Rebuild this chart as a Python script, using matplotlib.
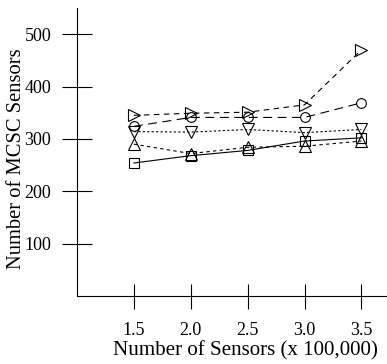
import matplotlib
matplotlib.use("Agg")
import matplotlib.pyplot as plt

plt.rcParams['font.family'] = ['Liberation Serif', 'DejaVu Serif']

# sensor counts (x 100,000)
sensors = [1.5, 2.0, 2.5, 3.0, 3.5]

# number of MCSC sensors for each configuration
tri_right = [345, 349, 351, 365, 470]
circles = [324, 341, 341, 341, 369]
tri_down = [314, 313, 318, 312, 318]
tri_up = [290, 272, 284, 286, 296]
squares = [254, 268, 278, 296, 302]

yticks = [100, 200, 300, 400, 500]
xtick_labels = ['1.5', '2.0', '2.5', '3.0', '3.5']

fig = plt.figure(figsize=(3.87, 3.64), dpi=100)
ax = fig.add_axes([77 / 387, 68 / 364, 310 / 387, 288 / 364])

mk = dict(color='black', markerfacecolor='none', markeredgecolor='black',
          markeredgewidth=0.8, linewidth=0.8)

ax.plot(sensors, tri_right, marker='>', markersize=8.5, dashes=(5, 4), **mk)
ax.plot(sensors, circles, marker='o', markersize=7, dashes=(8, 5), **mk)
ax.plot(sensors, tri_down, marker='v', markersize=8.5, dashes=(2, 2), **mk)
ax.plot(sensors, tri_up, marker='^', markersize=8.5, dashes=(3, 3), **mk)
ax.plot(sensors, squares, marker='s', markersize=6.5, linestyle='-', **mk)

ax.set_xlim(1.0, 3.725)
ax.set_ylim(0, 550)
ax.set_xticks(sensors)
ax.set_xticklabels(xtick_labels)
ax.set_yticks(yticks)

for side in ['top', 'right']:
    ax.spines[side].set_visible(False)
for side in ['left', 'bottom']:
    ax.spines[side].set_linewidth(0.8)

ax.tick_params(axis='y', direction='inout', length=21, width=0.8,
               labelsize=13, pad=8)
ax.tick_params(axis='x', direction='inout', length=18, width=0.8,
               labelsize=13, pad=10)

ax.set_xlabel('Number of Sensors (x 100,000)', fontsize=15.1)
ax.set_ylabel('Number of MCSC Sensors', fontsize=14.8)
ax.xaxis.set_label_coords((245 - 77) / 310, (296 - 341) / 288)
ax.yaxis.set_label_coords((26 - 77) / 310, (296 - 159) / 288)

fig.savefig('out.png', dpi=100)
